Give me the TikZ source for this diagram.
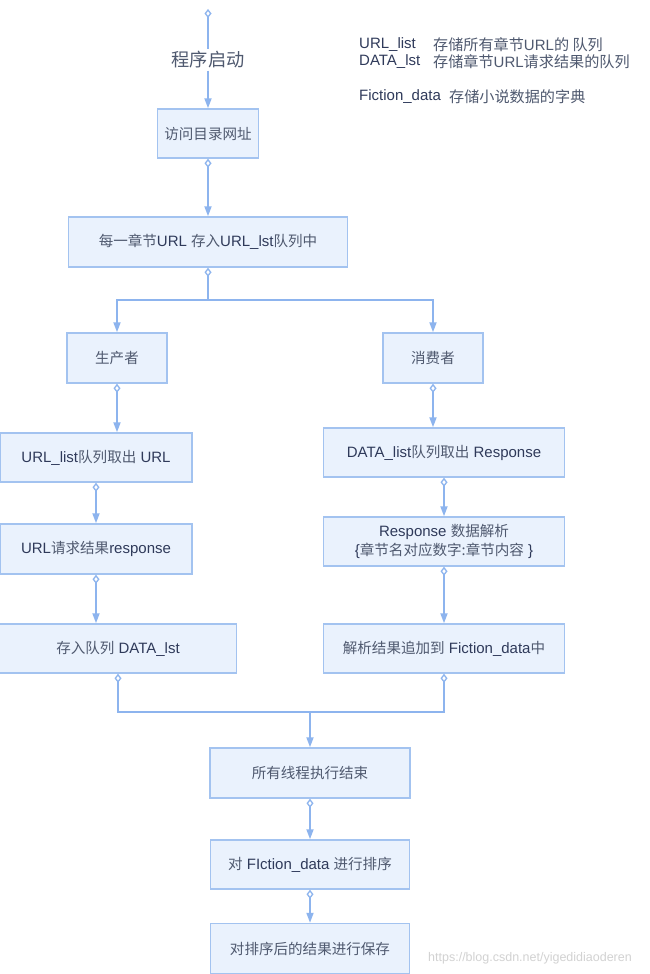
\documentclass[tikz,border=0pt]{standalone}
\usepackage{fontspec}
\setmainfont{Liberation Sans}
\newfontfamily\cjkf{Noto Sans CJK SC}[Scale=0.97]
\usetikzlibrary{arrows.meta}
\definecolor{boxfill}{HTML}{EAF2FD}
\definecolor{boxline}{HTML}{A3C3F0}
\definecolor{conn}{HTML}{8DB4EE}
\definecolor{txt}{HTML}{2F3A5A}
\definecolor{txtz}{HTML}{4F596F}
\definecolor{wmark}{HTML}{D2D2D2}
\newcommand{\zh}[1]{{\cjkf\color{txtz}#1}}
\newcommand{\lzh}[1]{{\cjkf\fontsize{15.6}{18}\selectfont\color{txtz}#1}}
\begin{document}
\begin{tikzpicture}[x=1pt,y=-1pt,
  box/.style={draw=boxline, fill=boxfill, line width=1.5pt, inner sep=0pt,
    text=txt, font=\fontsize{15}{19}\selectfont, align=center},
  link/.style={draw=conn, line width=1.8pt},
  dia/.style={link, {Diamond[fill=white,length=9pt,width=7pt,line width=1.3pt]}-{Triangle[length=10pt,width=7pt]}},
  diaonly/.style={link, {Diamond[fill=white,length=9pt,width=7pt,line width=1.3pt]}-},
  tri/.style={link, -{Triangle[length=10pt,width=7pt]}},
  legkey/.style={anchor=west, inner sep=0pt, text=txt, font=\fontsize{15}{18}\selectfont},
  legdesc/.style={anchor=west, inner sep=0pt, text=txtz, font=\fontsize{15}{18}\selectfont},
]
\useasboundingbox (0,0) rectangle (650,974);
\fill[white] (0,0) rectangle (650,974);

% legend
\node[legkey] (k1) at (359,45) {URL\_list};
\node[legdesc] (d1) at (433,45) {\lzh{存储所有章节}URL\lzh{的 队列}};
\node[legkey] (k2) at (359,62) {DATA\_lst};
\node[legdesc] (d2) at (433,62) {\lzh{存储章节}URL\lzh{请求结果的队列}};
\node[legkey] (k3) at (359,97) {Fiction\_data};
\node[legdesc] (d3) at (449,97) {\lzh{存储小说数据的字典}};

% boxes
\node[box, minimum width=101pt, minimum height=49pt] (b1) at (208,133.5) {\zh{访问目录网址}};
\node[box, minimum width=279pt, minimum height=50pt] (b2) at (208,242) {\zh{每一章节}URL \zh{存入}URL\_lst\zh{队列中}};
\node[box, minimum width=100pt, minimum height=50pt] (p) at (117,358) {\zh{生产者}};
\node[box, minimum width=100pt, minimum height=50pt] (c) at (433,358) {\zh{消费者}};
\node[box, minimum width=192pt, minimum height=49pt] (p1) at (96,457.5) {URL\_list\zh{队列取出} URL};
\node[box, minimum width=192pt, minimum height=50pt] (p2) at (96,549) {URL\zh{请求结果}response};
\node[box, minimum width=237pt, minimum height=49pt] (p3) at (118,648.5) {\zh{存入队列} DATA\_lst};
\node[box, minimum width=241pt, minimum height=49pt] (c1) at (444,452.5) {DATA\_list\zh{队列取出} Response};
\node[box, minimum width=241pt, minimum height=49pt] (c2) at (444,541.5) {Response \zh{数据解析}\\\{\zh{章节名对应数字:章节内容} \}};
\node[box, minimum width=241pt, minimum height=49pt] (c3) at (444,648.5) {\zh{解析结果追加到} Fiction\_data\zh{中}};
\node[box, minimum width=200pt, minimum height=50pt] (e1) at (310,773) {\zh{所有线程执行结束}};
\node[box, minimum width=199pt, minimum height=49pt] (e2) at (310,864.5) {\zh{对} FIction\_data \zh{进行排序}};
\node[box, minimum width=199pt, minimum height=50pt] (e3) at (310,948.5) {\zh{对排序后的结果进行保存}};

% start
\coordinate (s0) at (208,9);
\node[inner sep=2pt, fill=white, font=\fontsize{18.8}{22}\selectfont] (lbl) at (208,60) {\zh{程序启动}};
\draw[diaonly] (s0) -- (lbl.north -| s0);
\draw[tri] (lbl.south -| s0) -- (s0 |- b1.north);

% connectors
\draw[dia] (b1.south) -- (b2.north);
\coordinate (split) at (208,300);
\draw[diaonly] (b2.south) -- (split);
\draw[tri] (split) -| (p.north);
\draw[tri] (split) -| (c.north);

\draw[dia] (p.south) -- (p.south |- p1.north);
\draw[dia] (p1.south) -- (p2.north);
\draw[dia] (p2.south) -- (p2.south |- p3.north);

\draw[dia] (c.south) -- (c.south |- c1.north);
\draw[dia] (c1.south) -- (c2.north);
\draw[dia] (c2.south) -- (c3.north);

\coordinate (m) at (310,712);
\draw[diaonly] (p3.south) |- (m);
\draw[diaonly] (c3.south) |- (m);
\draw[tri] (m) -- (e1.north);

\draw[dia] (e1.south) -- (e2.north);
\draw[dia] (e2.south) -- (e3.north);

% watermark
\node[anchor=west, inner sep=0pt, text=wmark, font=\fontsize{12.5}{14}\selectfont] (wm) at (428,958) {https://blog.csdn.net/yigedidiaoderen};
\end{tikzpicture}
\end{document}
